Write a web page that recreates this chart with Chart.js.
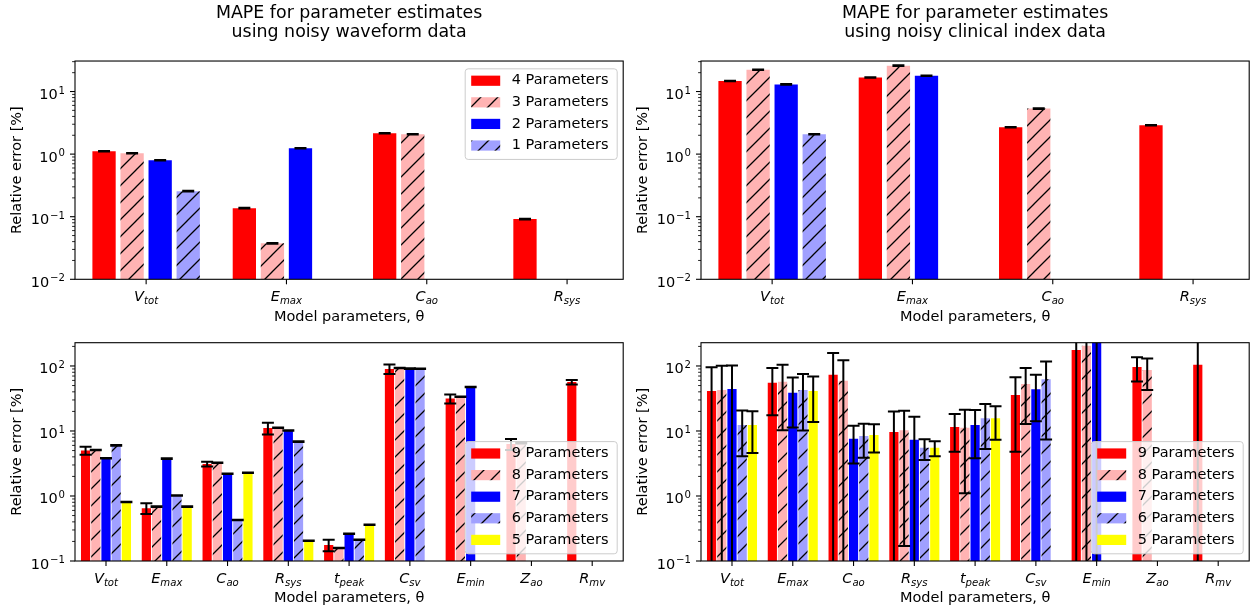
<!DOCTYPE html>
<html>
<head>
<meta charset="utf-8">
<script src="https://cdn.jsdelivr.net/npm/chart.js@4.4.1/dist/chart.umd.min.js"></script>
<style>
html,body{margin:0;padding:0;background:#fff;}
body{width:1252px;height:615px;position:relative;overflow:hidden;}
canvas{position:absolute;}
</style>
</head>
<body>
<canvas id="c1" width="626" height="330" style="left:0;top:0"></canvas>
<canvas id="c2" width="626" height="330" style="left:626px;top:0"></canvas>
<canvas id="c3" width="626" height="290" style="left:0;top:325px"></canvas>
<canvas id="c4" width="626" height="290" style="left:626px;top:325px"></canvas>
<script>
// ---------------- data ----------------
const topCategories = ['V_tot', 'E_max', 'C_ao', 'R_sys'];
const bottomCategories = ['V_tot', 'E_max', 'C_ao', 'R_sys', 't_peak', 'C_sv', 'E_min', 'Z_ao', 'R_mv'];
const topSeriesLabels = ['4 Parameters', '3 Parameters', '2 Parameters', '1 Parameters'];
const bottomSeriesLabels = ['9 Parameters', '8 Parameters', '7 Parameters', '6 Parameters', '5 Parameters'];
const topYTickExponents = [-2, -1, 0, 1];
const bottomYTickExponents = [-1, 0, 1, 2];

// MAPE, noisy waveform data (top left)
const wave4 = [1.11, 0.137, 2.15, 0.0916];
const wave3 = [1.03, 0.0375, 2.08, null];
const wave2 = [0.80, 1.24, null, null];
const wave1 = [0.256, null, null, null];
const wave4Err = [0.012, 0.0015, 0.022, 0.001];
const wave3Err = [0.011, 0.0006, 0.021, null];
const wave2Err = [0.008, 0.013, null, null];
const wave1Err = [0.003, null, null, null];

// MAPE, noisy clinical index data (top right)
const clin4 = [14.7, 16.8, 2.69, 2.89];
const clin3 = [22.3, 25.9, 5.33, null];
const clin2 = [13.0, 17.9, null, null];
const clin1 = [2.08, null, null, null];
const clin4Err = [0.15, 0.17, 0.03, 0.03];
const clin3Err = [0.25, 0.3, 0.06, null];
const clin2Err = [0.13, 0.18, null, null];
const clin1Err = [0.02, null, null, null];

// bottom left (waveform, 9..5 parameters)
const wave9 = [5.0, 0.65, 3.1, 11.1, 0.177, 90, 31.5, 6.3, 56.5];
const wave8 = [5.1, 0.686, 3.25, 11.2, 0.158, 93, 33.7, 6.5, null];
const wave7 = [3.8, 3.75, 2.2, 10.2, 0.263, 91, 47.5, null, null];
const wave6 = [6.0, 1.02, 0.428, 6.85, 0.213, 90.5, null, null, null];
const wave5 = [0.81, 0.686, 2.28, 0.205, 0.362, null, null, null, null];
const wave9Err = [0.7, 0.12, 0.25, 2.3, 0.036, 15, 5, 1.2, 4.5];
const wave8Err = [0.05, 0.007, 0.03, 0.11, 0.0016, 0.9, 0.34, 0.07, null];
const wave7Err = [0.04, 0.04, 0.02, 0.1, 0.0026, 0.9, 0.5, null, null];
const wave6Err = [0.06, 0.01, 0.004, 0.07, 0.002, 0.9, null, null, null];
const wave5Err = [0.008, 0.007, 0.023, 0.002, 0.0036, null, null, null, null];

// bottom right (clinical, 9..5 parameters)
const clin9 = [41.2, 55.4, 73.5, 9.66, 11.5, 35.8, 176, 96.6, 104.7];
const clin8 = [42.7, 57.3, 59.4, 10.3, 11.2, 52.8, 205, 86.7, null];
const clin7 = [44.3, 38.8, 7.62, 7.35, 12.4, 43.8, 260, null, null];
const clin6 = [12.4, 42.7, 8.38, 5.53, 15.7, 62.4, null, null, null];
const clin5 = [12.4, 41.2, 8.68, 5.53, 15.7, null, null, null, null];
const clin9Err = [54, 38, 85, 10.3, 6.7, 31, 260, 39, 150];
const clin8Err = [58, 47, 63, 10.13, 10.1, 40, 300, 44, null];
const clin7Err = [57, 27.5, 4.45, 9.2, 8.6, 29.7, 400, null, null];
const clin6Err = [8.3, 32.5, 4.5, 1.95, 10.4, 55, null, null, null];
const clin5Err = [7.8, 27.5, 4.0, 1.45, 8.4, null, null, null, null];

// ---------------- styling ----------------
const FONT = "'DejaVu Sans', 'Liberation Sans', sans-serif";
Chart.defaults.font.family = FONT;
Chart.defaults.color = '#000';

function makeHatch(bg) {
  const s = 17;
  const c = document.createElement('canvas');
  c.width = s; c.height = s;
  const g = c.getContext('2d');
  g.fillStyle = bg; g.fillRect(0, 0, s, s);
  g.strokeStyle = '#000'; g.lineWidth = 1.3;
  g.beginPath();
  g.moveTo(-1, s + 1); g.lineTo(s + 1, -1);
  g.moveTo(-1, 1); g.lineTo(1, -1);
  g.moveTo(s - 1, s + 1); g.lineTo(s + 1, s - 1);
  g.stroke();
  return g.createPattern(c, 'repeat');
}
const fills = ['#ff0000', makeHatch('#ffb3b3'), '#0000ff', makeHatch('#a0a0ff'), '#ffff00'];

const mplPlugin = {
  id: 'mpl',
  afterDatasetsDraw(chart, args, o) {
    const ctx = chart.ctx, a = chart.chartArea, xs = chart.scales.x, ys = chart.scales.y;
    // error bars
    ctx.save();
    ctx.beginPath(); ctx.rect(a.left, a.top, a.right - a.left, a.bottom - a.top); ctx.clip();
    ctx.strokeStyle = '#000'; ctx.lineCap = 'butt';
    chart.data.datasets.forEach((ds, di) => {
      const meta = chart.getDatasetMeta(di);
      ds.data.forEach((pt, j) => {
        const v = pt.y, e = ds.errors[j];
        if (v == null || e == null) return;
        const x = meta.data[j].x;
        const yHi = ys.getPixelForValue(v + e);
        const lo = v - e;
        const yLo = lo > 0 ? ys.getPixelForValue(lo) : a.bottom + 10;
        ctx.lineWidth = 2;
        ctx.beginPath(); ctx.moveTo(x, yHi); ctx.lineTo(x, yLo); ctx.stroke();
        ctx.beginPath();
        ctx.moveTo(x - 6, yHi); ctx.lineTo(x + 6, yHi);
        if (lo > 0) { ctx.moveTo(x - 6, yLo); ctx.lineTo(x + 6, yLo); }
        ctx.stroke();
      });
    });
    ctx.restore();

    ctx.save();
    ctx.strokeStyle = '#000';
    ctx.lineWidth = 1.1;
    ctx.strokeRect(a.left, a.top, a.right - a.left, a.bottom - a.top);
    // y ticks (log, major + minor)
    const pLo = Math.floor(Math.log10(ys.min)), pHi = Math.ceil(Math.log10(ys.max));
    for (let p = pLo; p <= pHi; p++) {
      for (let k = 1; k <= 9; k++) {
        const v = k * Math.pow(10, p);
        if (v < ys.min * 0.9999 || v > ys.max * 1.0001) continue;
        const y = ys.getPixelForValue(v);
        const len = k === 1 ? 5 : 2.9;
        ctx.lineWidth = k === 1 ? 1.1 : 0.85;
        ctx.beginPath(); ctx.moveTo(a.left - len, y); ctx.lineTo(a.left, y); ctx.stroke();
      }
    }
    ctx.fillStyle = '#000';
    ctx.textAlign = 'left'; ctx.textBaseline = 'alphabetic';
    o.yExps.forEach(p => {
      const y = ys.getPixelForValue(Math.pow(10, p));
      const expStr = p < 0 ? '\u2212' + (-p) : String(p);
      ctx.font = '10.15px ' + FONT; const we = ctx.measureText(expStr).width;
      ctx.font = '14.5px ' + FONT; const wb = ctx.measureText('10').width;
      const right = a.left - 10;
      ctx.fillText('10', right - we - 0.8 - wb, y + 7.5);
      ctx.font = '10.15px ' + FONT;
      ctx.fillText(expStr, right - we, y + 2);
    });
    // x ticks with subscripted labels
    o.categories.forEach((c, i) => {
      const x = xs.getPixelForValue(i);
      ctx.lineWidth = 1.1;
      ctx.beginPath(); ctx.moveTo(x, a.bottom); ctx.lineTo(x, a.bottom + 5); ctx.stroke();
      const parts = c.split('_');
      ctx.font = 'italic 14.5px ' + FONT; const w1 = ctx.measureText(parts[0]).width;
      ctx.font = 'italic 10.15px ' + FONT; const w2 = ctx.measureText(parts[1]).width;
      const start = x - (w1 + w2) / 2;
      const base = a.bottom + 22;
      ctx.font = 'italic 14.5px ' + FONT; ctx.fillText(parts[0], start, base);
      ctx.font = 'italic 10.15px ' + FONT; ctx.fillText(parts[1], start + w1, base + 2.6);
    });
    // legend
    if (o.legend) {
      const n = chart.data.datasets.length;
      const rowH = 21.6, w = 152;
      const h = 12.4 + (n - 1) * rowH + 13.4;
      const x0 = a.right - 6.5 - w;
      const y0 = o.legend === 'top' ? a.top + 7.3 : a.bottom - 7.7 - h;
      ctx.beginPath();
      if (ctx.roundRect) ctx.roundRect(x0 + 0.5, y0 + 0.5, w, h, 3); else ctx.rect(x0 + 0.5, y0 + 0.5, w, h);
      ctx.fillStyle = 'rgba(255,255,255,0.8)'; ctx.fill();
      ctx.strokeStyle = '#cccccc'; ctx.lineWidth = 1; ctx.stroke();
      chart.data.datasets.forEach((ds, i) => {
        const cy = y0 + 12.4 + i * rowH;
        ctx.fillStyle = ds.backgroundColor;
        ctx.fillRect(x0 + 6.5, cy - 5.1, 29, 10.2);
        ctx.fillStyle = '#000';
        ctx.font = '14.5px ' + FONT; ctx.textBaseline = 'middle'; ctx.textAlign = 'left';
        ctx.fillText(ds.label, x0 + 47, cy);
      });
    }
    ctx.restore();
  }
};

function makeChart(id, cfg) {
  const datasets = cfg.series.map((s, i) => ({
    label: cfg.labels[i],
    data: s.values.map((v, j) => ({x: j, y: v})),
    errors: s.errors,
    backgroundColor: fills[i],
    borderWidth: 0,
    categoryPercentage: cfg.catPct,
    barPercentage: cfg.barPct
  }));
  return new Chart(document.getElementById(id), {
    type: 'bar',
    data: {datasets},
    options: {
      responsive: false,
      animation: false,
      devicePixelRatio: 1,
      events: [],
      layout: {padding: {top: cfg.padTop, left: 0, right: 2.8, bottom: 0}},
      plugins: {
        legend: {display: false},
        tooltip: {enabled: false},
        title: {
          display: !!cfg.title,
          text: cfg.title || '',
          fullSize: false,
          color: '#000',
          font: {size: 17.4, lineHeight: 1.11, weight: 'normal'},
          padding: {top: 4, bottom: 18.4}
        },
        mpl: {categories: cfg.categories, yExps: cfg.yExps, legend: cfg.legend}
      },
      scales: {
        x: {
          type: 'linear', min: cfg.xMin, max: cfg.xMax, offset: false,
          grid: {display: false}, border: {display: false}, ticks: {display: false},
          afterBuildTicks: s => { s.ticks = cfg.categories.map((c, i) => ({value: i})); },
          title: {display: true, text: 'Model parameters, θ', color: '#000',
                  font: {size: 14.5, lineHeight: 1.2}, padding: {top: 0, bottom: cfg.xTitlePad}},
          afterFit: s => { s.height = cfg.xHeight; }
        },
        y: {
          type: 'logarithmic', min: cfg.yMin, max: cfg.yMax,
          grid: {display: false}, border: {display: false}, ticks: {display: false},
          title: {display: true, text: 'Relative error [%]', color: '#000',
                  font: {size: 14.5, lineHeight: 1.2}, padding: {top: 8.9, bottom: 0}},
          afterFit: s => { s.width = 75; }
        }
      }
    },
    plugins: [mplPlugin]
  });
}

const topCommon = {categories: topCategories, labels: topSeriesLabels, xMin: -0.507, xMax: 3.4,
  yMin: 0.01, yMax: 30.7, yExps: topYTickExponents, catPct: 0.8, barPct: 0.83,
  padTop: 0, xHeight: 50.7, xTitlePad: 4.4};
const bottomCommon = {categories: bottomCategories, labels: bottomSeriesLabels, xMin: -0.51, xMax: 8.51,
  yMin: 0.1, yMax: 228, yExps: bottomYTickExponents, catPct: 0.84, barPct: 0.9,
  padTop: 17.7, xHeight: 54, xTitlePad: 7.8, legend: 'bottom', title: null};

makeChart('c1', Object.assign({}, topCommon, {
  title: ['MAPE for parameter estimates', 'using noisy waveform data'], legend: 'top',
  series: [{values: wave4, errors: wave4Err}, {values: wave3, errors: wave3Err},
           {values: wave2, errors: wave2Err}, {values: wave1, errors: wave1Err}]
}));
makeChart('c2', Object.assign({}, topCommon, {
  title: ['MAPE for parameter estimates', 'using noisy clinical index data'], legend: null,
  series: [{values: clin4, errors: clin4Err}, {values: clin3, errors: clin3Err},
           {values: clin2, errors: clin2Err}, {values: clin1, errors: clin1Err}]
}));
makeChart('c3', Object.assign({}, bottomCommon, {
  series: [{values: wave9, errors: wave9Err}, {values: wave8, errors: wave8Err},
           {values: wave7, errors: wave7Err}, {values: wave6, errors: wave6Err},
           {values: wave5, errors: wave5Err}]
}));
makeChart('c4', Object.assign({}, bottomCommon, {
  series: [{values: clin9, errors: clin9Err}, {values: clin8, errors: clin8Err},
           {values: clin7, errors: clin7Err}, {values: clin6, errors: clin6Err},
           {values: clin5, errors: clin5Err}]
}));
</script>
</body>
</html>
